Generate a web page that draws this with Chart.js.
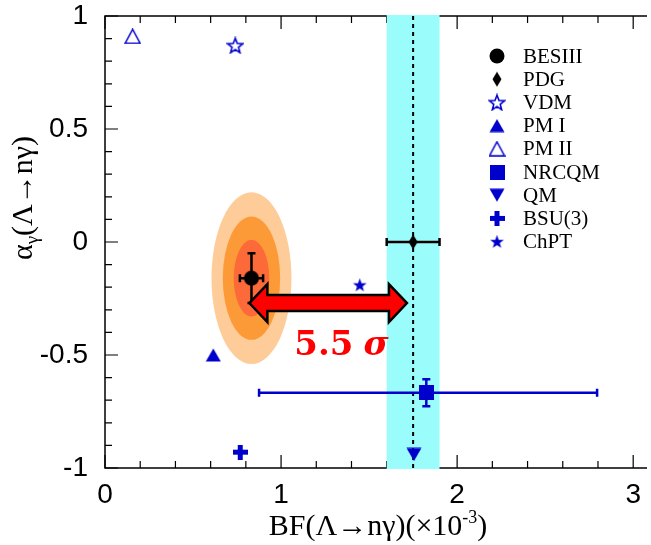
<!DOCTYPE html>
<html><head><meta charset="utf-8">
<script src="https://cdn.jsdelivr.net/npm/chart.js@4/dist/chart.umd.min.js"></script>
<style>html,body{margin:0;padding:0;background:#fff;overflow:hidden}canvas{display:block}</style>
</head><body>
<canvas id="c" width="651" height="545"></canvas>
<script>
// ---------------- data ----------------
const seriesNames = ['BESIII','PDG','VDM','PM I','PM II','NRCQM','QM','BSU(3)','ChPT'];
const bfValues    = [0.832, 1.75, 0.74, 0.615, 0.157, 1.825, 1.755, 0.768, 1.447];
const alphaValues = [-0.16, 0.0, 0.87, -0.50, 0.91, -0.667, -0.94, -0.93, -0.19];
const bfErrLow    = [0.066, 0.15, 0, 0, 0, 0.95, 0, 0, 0];
const bfErrHigh   = [0.066, 0.15, 0, 0, 0, 0.97, 0, 0, 0];
const alphaErrors = [0.11, 0, 0, 0, 0, 0.06, 0, 0, 0];
const xTickValues = [0, 1, 2, 3];
const xTickLabels = ['0', '1', '2', '3'];
const yTickValues = [-1, -0.5, 0, 0.5, 1];
const yTickLabels = ['-1', '-0.5', '0', '0.5', '1'];
const contourSemiBF    = [0.227, 0.163, 0.101];
const contourSemiAlpha = [0.38, 0.273, 0.17];
const pdgBand    = [1.6, 1.9];
const pdgCentral = [1.75];
const arrowBF    = [0.82, 1.715];
const arrowAlpha = [-0.27];
const sigmaLabel = ['5.5', 'σ'];
const sigmaLabelPos = [1.075, -0.50];
const xTitle = ['BF(Λ→nγ)(×10', '-3', ')'];
const yTitle = ['α', 'γ', '(Λ→nγ)'];

// ---------------- styles ----------------
const BLUE = '#0000cc';
const contourColors = ['#fecc99', '#fd9a38', '#fc6a3a'];
function mk(w, h, draw) {
  const c = document.createElement('canvas');
  c.width = w; c.height = h;
  const g = c.getContext('2d');
  draw(g, w, h);
  return c;
}
function starPath(g, cx, cy, ro, ri) {
  g.beginPath();
  for (let i = 0; i < 10; i++) {
    const r = i % 2 ? ri : ro;
    const a = -Math.PI / 2 + i * Math.PI / 5;
    const px = cx + r * Math.cos(a), py = cy + r * Math.sin(a);
    i ? g.lineTo(px, py) : g.moveTo(px, py);
  }
  g.closePath();
}
const markers = [
  mk(16, 16, (g) => { g.fillStyle = '#000'; g.beginPath(); g.arc(8, 8, 7.5, 0, 2 * Math.PI); g.fill(); }),
  mk(10, 16, (g) => { g.fillStyle = '#000'; g.beginPath(); g.moveTo(5, 0.5); g.lineTo(9.5, 8); g.lineTo(5, 15.5); g.lineTo(0.5, 8); g.closePath(); g.fill(); }),
  mk(18, 18, (g) => { g.strokeStyle = BLUE; g.lineWidth = 1.6; starPath(g, 9, 9.8, 8, 3.4); g.stroke(); }),
  mk(16, 14, (g) => { g.fillStyle = BLUE; g.beginPath(); g.moveTo(8, 0.5); g.lineTo(15.5, 13.5); g.lineTo(0.5, 13.5); g.closePath(); g.fill(); }),
  mk(17, 16, (g) => { g.strokeStyle = BLUE; g.lineWidth = 1.5; g.beginPath(); g.moveTo(8.5, 1); g.lineTo(16, 15); g.lineTo(1, 15); g.closePath(); g.stroke(); }),
  mk(15, 15, (g) => { g.fillStyle = BLUE; g.fillRect(0, 0, 15, 15); }),
  mk(16, 14, (g) => { g.fillStyle = BLUE; g.beginPath(); g.moveTo(0.5, 0.5); g.lineTo(15.5, 0.5); g.lineTo(8, 13.5); g.closePath(); g.fill(); }),
  mk(15, 15, (g) => { g.fillStyle = BLUE; g.fillRect(5, 0, 5, 15); g.fillRect(0, 5, 15, 5); }),
  mk(15, 15, (g) => { g.fillStyle = BLUE; starPath(g, 7.5, 8, 7.2, 2.9); g.fill(); })
];

const datasets = seriesNames.map((name, i) => ({
  label: name,
  data: [{ x: bfValues[i], y: alphaValues[i] }],
  pointStyle: markers[i],
  pointRadius: 8,
  showLine: false
}));

const LEFT = 105, TOP = 16, BOTTOM_H = 77;
function zeroPad(s) { s.paddingTop = 0; s.paddingBottom = 0; s.paddingLeft = 0; s.paddingRight = 0; }

const decorPlugin = {
  id: 'decor',
  beforeDatasetsDraw(chart) {
    const { ctx, chartArea: a, scales: { x, y } } = chart;
    ctx.save();
    // frame + inward ticks
    ctx.strokeStyle = '#000'; ctx.lineWidth = 1.5;
    ctx.beginPath();
    ctx.moveTo(a.right + 5, a.top); ctx.lineTo(a.left, a.top); ctx.lineTo(a.left, a.bottom); ctx.lineTo(a.right + 5, a.bottom);
    ctx.stroke();
    ctx.lineWidth = 1.2;
    ctx.beginPath();
    for (let k = 0; k <= 16; k++) {
      const v = k * 0.2; if (v > x.max) break;
      const px = x.getPixelForValue(v);
      const L = (k % 5 === 0) ? 13 : 7;
      ctx.moveTo(px, a.bottom); ctx.lineTo(px, a.bottom - L);
      ctx.moveTo(px, a.top); ctx.lineTo(px, a.top + L);
    }
    for (let k = 0; k <= 20; k++) {
      const v = -1 + k * 0.1;
      const py = y.getPixelForValue(v);
      const L = (k % 5 === 0) ? 13 : 7;
      ctx.moveTo(a.left, py); ctx.lineTo(a.left + L, py);
    }
    ctx.stroke();
    // PDG band
    ctx.fillStyle = '#9bfcfc';
    const b0 = x.getPixelForValue(pdgBand[0]), b1 = x.getPixelForValue(pdgBand[1]);
    ctx.fillRect(b0, a.top - 1, b1 - b0, a.bottom - a.top + 2);
    // contours
    const cx = x.getPixelForValue(bfValues[0]), cy = y.getPixelForValue(alphaValues[0]);
    contourSemiBF.forEach((sx, i) => {
      const rx = x.getPixelForValue(bfValues[0] + sx) - cx;
      const ry = cy - y.getPixelForValue(alphaValues[0] + contourSemiAlpha[i]);
      ctx.fillStyle = contourColors[i];
      ctx.beginPath(); ctx.ellipse(cx, cy, rx, ry, 0, 0, 2 * Math.PI); ctx.fill();
    });
    // PDG central dotted line
    const lx = x.getPixelForValue(pdgCentral[0]);
    ctx.strokeStyle = '#000'; ctx.lineWidth = 2; ctx.setLineDash([4, 4]);
    ctx.beginPath(); ctx.moveTo(lx, a.top); ctx.lineTo(lx, a.bottom + 2); ctx.stroke();
    ctx.setLineDash([]);
    // error bars
    seriesNames.forEach((n, i) => {
      const col = i < 2 ? '#000' : BLUE;
      ctx.strokeStyle = col; ctx.lineWidth = 2.5;
      const px = x.getPixelForValue(bfValues[i]), py = y.getPixelForValue(alphaValues[i]);
      const cap = 4;
      if (bfErrHigh[i] > 0) {
        const x0 = x.getPixelForValue(bfValues[i] - bfErrLow[i]), x1 = x.getPixelForValue(bfValues[i] + bfErrHigh[i]);
        ctx.beginPath();
        ctx.moveTo(x0, py); ctx.lineTo(x1, py);
        ctx.moveTo(x0, py - cap); ctx.lineTo(x0, py + cap);
        ctx.moveTo(x1, py - cap); ctx.lineTo(x1, py + cap);
        ctx.stroke();
      }
      if (alphaErrors[i] > 0) {
        const y0 = y.getPixelForValue(alphaValues[i] - alphaErrors[i]), y1 = y.getPixelForValue(alphaValues[i] + alphaErrors[i]);
        ctx.beginPath();
        ctx.moveTo(px, y0); ctx.lineTo(px, y1);
        ctx.moveTo(px - cap, y0); ctx.lineTo(px + cap, y0);
        ctx.moveTo(px - cap, y1); ctx.lineTo(px + cap, y1);
        ctx.stroke();
      }
    });
    ctx.restore();
  },
  afterDatasetsDraw(chart) {
    const { ctx, chartArea: a, scales: { x, y } } = chart;
    ctx.save();
    // double arrow
    const x0 = x.getPixelForValue(arrowBF[0]), x1 = x.getPixelForValue(arrowBF[1]);
    const yc = y.getPixelForValue(arrowAlpha[0]);
    const hl = 18, hh = 19, sh = 8;
    ctx.beginPath();
    ctx.moveTo(x0, yc);
    ctx.lineTo(x0 + hl, yc - hh); ctx.lineTo(x0 + hl, yc - sh);
    ctx.lineTo(x1 - hl, yc - sh); ctx.lineTo(x1 - hl, yc - hh);
    ctx.lineTo(x1, yc);
    ctx.lineTo(x1 - hl, yc + hh); ctx.lineTo(x1 - hl, yc + sh);
    ctx.lineTo(x0 + hl, yc + sh); ctx.lineTo(x0 + hl, yc + hh);
    ctx.closePath();
    ctx.fillStyle = '#ff0000'; ctx.fill();
    ctx.lineWidth = 2.5; ctx.strokeStyle = '#000'; ctx.lineJoin = 'miter'; ctx.stroke();
    // 5.5 sigma
    const tx = x.getPixelForValue(sigmaLabelPos[0]), ty = y.getPixelForValue(sigmaLabelPos[1]);
    ctx.fillStyle = '#ff0000'; ctx.textBaseline = 'alphabetic'; ctx.textAlign = 'left';
    ctx.font = 'bold 34px "DejaVu Serif"';
    ctx.fillText(sigmaLabel[0], tx, ty);
    const w = ctx.measureText(sigmaLabel[0]).width;
    ctx.font = 'italic bold 34px "DejaVu Serif"';
    ctx.fillText(sigmaLabel[1], tx + w + 10, ty);
    // legend
    const lx = 497, tx0 = 523, ly0 = 56, step = 23.2;
    ctx.font = '21px "Liberation Serif"'; ctx.fillStyle = '#000'; ctx.textBaseline = 'middle';
    seriesNames.forEach((n, i) => {
      const m = markers[i];
      const yy = ly0 + i * step;
      ctx.drawImage(m, lx - m.width / 2, yy - m.height / 2);
      ctx.fillText(n, tx0, yy + 1);
    });
    // axis titles
    ctx.textBaseline = 'alphabetic';
    const F = '30px "Liberation Serif"', FS = '18px "Liberation Serif"';
    ctx.font = F;
    const w1 = ctx.measureText(xTitle[0]).width;
    ctx.font = FS;
    const w2 = ctx.measureText(xTitle[1]).width;
    ctx.font = F;
    const w3 = ctx.measureText(xTitle[2]).width;
    let sx = 378 - (w1 + w2 + w3) / 2;
    const by = 535;
    ctx.fillText(xTitle[0], sx, by);
    ctx.font = FS;
    ctx.fillText(xTitle[1], sx + w1, by - 12);
    ctx.font = F;
    ctx.fillText(xTitle[2], sx + w1 + w2, by);
    // y title rotated
    ctx.translate(32, 198);
    ctx.rotate(-Math.PI / 2);
    ctx.font = F;
    const a1 = ctx.measureText(yTitle[0]).width;
    ctx.font = '19px "Liberation Serif"';
    const a2 = ctx.measureText(yTitle[1]).width;
    ctx.font = F;
    const a3 = ctx.measureText(yTitle[2]).width;
    let s0 = -(a1 + a2 + a3) / 2;
    ctx.fillText(yTitle[0], s0, 0);
    ctx.font = '19px "Liberation Serif"';
    ctx.fillText(yTitle[1], s0 + a1, 6);
    ctx.font = F;
    ctx.fillText(yTitle[2], s0 + a1 + a2, 0);
    ctx.restore();
  }
};

new Chart(document.getElementById('c'), {
  type: 'scatter',
  data: { datasets },
  options: {
    responsive: false,
    animation: false,
    layout: { padding: { top: TOP, right: 0, left: 0, bottom: 0 } },
    plugins: { legend: { display: false }, tooltip: { enabled: false } },
    scales: {
      x: {
        type: 'linear', min: 0, max: 3.05,
        grid: { display: false, drawTicks: false },
        border: { display: false },
        afterFit: (s) => { s.height = BOTTOM_H; zeroPad(s); },
        afterBuildTicks: (s) => { s.ticks = xTickValues.map(v => ({ value: v })); },
        ticks: {
          padding: 10, maxRotation: 0, autoSkip: false,
          color: '#000', font: { family: 'Liberation Sans', size: 28 },
          callback: (v) => xTickLabels[xTickValues.indexOf(v)]
        }
      },
      y: {
        type: 'linear', min: -1, max: 1,
        grid: { display: false, drawTicks: false },
        border: { display: false },
        afterFit: (s) => { s.width = LEFT; zeroPad(s); },
        afterBuildTicks: (s) => { s.ticks = yTickValues.map(v => ({ value: v })); },
        ticks: {
          padding: 17, autoSkip: false,
          color: '#000', font: { family: 'Liberation Sans', size: 28 },
          callback: (v) => yTickLabels[yTickValues.indexOf(v)]
        }
      }
    }
  },
  plugins: [decorPlugin]
});
</script>
</body></html>
